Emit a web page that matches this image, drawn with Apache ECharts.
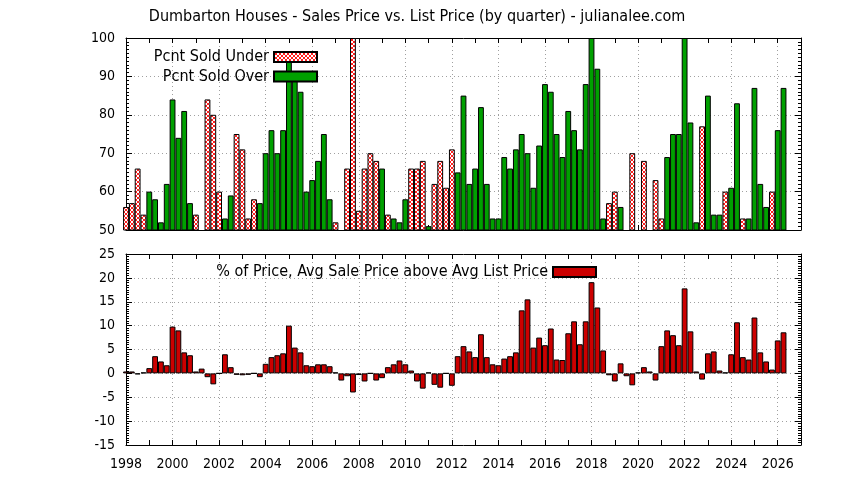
<!DOCTYPE html>
<html>
<head>
<meta charset="utf-8">
<script src="https://cdn.jsdelivr.net/npm/echarts@6/dist/echarts.min.js"></script>
<style>
html,body{margin:0;padding:0;background:#fff;}
#chart{width:844px;height:480px;}
</style>
</head>
<body>
<div id="chart"></div>
<script>
// ---- data (quarterly, starting 1998 Q1) ----
const startYear = 1998;
const seriesNames = ['Pcnt Sold Under', 'Pcnt Sold Over', '% of Price, Avg Sale Price above Avg List Price'];
const titleText = 'Dumbarton Houses - Sales Price vs. List Price (by quarter) - julianalee.com';
const yearLabels = [1998, 2000, 2002, 2004, 2006, 2008, 2010, 2012, 2014, 2016, 2018, 2020, 2022, 2024, 2026];
const topTicks = [50, 60, 70, 80, 90, 100];
const bottomTicks = [-15, -10, -5, 0, 5, 10, 15, 20, 25];

const under = [
  56, 57, 66, 54, null, null, null, null, null, null, null, null,
  54, null, 84, 80, 60, null, null, 75, 71, 53, 58, null,
  null, null, null, null, null, null, null, null, null, null, null, null,
  52, null, 66, 100, 55, 66, 70, 68, null, 54, null, null,
  null, 66, 66, 68, null, 62, 68, 61, 71, null, null, null,
  null, null, null, null, null, null, null, null, null, null, null, null,
  null, null, null, null, null, null, null, null, null, null, null, 57,
  60, null, null, 70, null, 68, null, 63, 53, null, null, null,
  null, null, null, 77, null, null, null, 60, null, null, 53, null,
  null, null, null, 60, null, null
];
const over = [
  null, null, null, null, 60, 58, 52, 62, 84, 74, 81, 57,
  null, null, null, null, null, 53, 59, null, null, null, null, 57,
  70, 76, 70, 76, 95, 90, 86, 60, 63, 68, 75, 58,
  null, null, null, null, null, null, null, null, 66, null, 53, 52,
  58, null, null, null, 51, null, null, null, null, 65, 85, 62,
  66, 82, 62, 53, 53, 69, 66, 71, 75, 70, 61, 72,
  88, 86, 75, 69, 81, 76, 71, 88, 100, 92, 53, null,
  null, 56, null, null, null, null, null, null, null, 69, 75, 75,
  100, 78, 52, null, 85, 54, 54, null, 61, 83, null, 53,
  87, 62, 56, null, 76, 87
];
const pct = [
  0.4, 0.4, -0.2, 0.2, 1.1, 3.6, 2.5, 1.7, 9.8, 9.0, 4.4, 3.8,
  0.4, 1.0, -0.8, -2.3, 0, 4.0, 1.3, -0.3, -0.4, -0.3, 0, -0.8,
  2.0, 3.4, 3.8, 4.2, 10.0, 5.4, 4.4, 1.7, 1.5, 1.9, 1.9, 1.5,
  0.2, -1.5, -0.6, -4.0, -0.35, -1.7, 0, -1.5, -1.0, 1.3, 1.9, 2.7,
  1.9, 0.6, -1.7, -3.2, 0.2, -2.4, -3.0, 0, -2.6, 3.6, 5.7, 4.6,
  3.4, 8.2, 3.4, 1.9, 1.7, 3.1, 3.6, 4.4, 13.2, 15.5, 5.4, 7.5,
  5.9, 9.4, 2.9, 2.8, 8.4, 10.9, 6.1, 10.9, 19.1, 13.8, 4.8, -0.4,
  -1.7, 2.1, -0.6, -2.5, 0.2, 1.3, 0.4, -1.5, 5.7, 9.0, 8.0, 5.9,
  17.8, 8.8, 0.4, -1.3, 4.2, 4.6, 0.6, 0.2, 4.0, 10.7, 3.4, 2.9,
  11.7, 4.4, 2.5, 0.8, 6.9, 8.6
];
const quarters = pct.map((_, i) => startYear + i / 4);

// ---- styling ----
const FONT = '"DejaVu Sans Condensed", "DejaVu Sans", sans-serif';
const GREEN = '#00a000';
const RED = '#cc0000';

function hatch() {
  const c = document.createElement('canvas');
  c.width = 4; c.height = 4;
  const g = c.getContext('2d');
  g.fillStyle = '#ffffff'; g.fillRect(0, 0, 4, 4);
  g.fillStyle = '#ff2020';
  for (let k = 0; k < 4; k++) { g.fillRect(k, k, 1, 1); g.fillRect(3 - k, k, 1, 1); }
  return c;
}
const hatchFill = { image: hatch(), repeat: 'repeat' };

const dotted = { show: true, lineStyle: { color: '#a0a0a0', type: [1, 3], width: 1 } };
const axisLine = { show: true, onZero: false, lineStyle: { color: '#000', width: 1 } };

function xAxes(gridIndex, labels) {
  return [
    {
      gridIndex, type: 'value', position: 'bottom', min: startYear, max: 2027, interval: 1,
      axisLine, axisTick: { show: true, inside: true, length: 5, lineStyle: { color: '#000' } },
      axisLabel: labels ? {
        show: true, color: '#000', fontFamily: FONT, fontSize: 14, margin: 12,
        formatter: v => yearLabels.includes(v) ? String(v) : ''
      } : { show: false },
      splitLine: { show: false }
    },
    {
      gridIndex, type: 'value', position: 'top', min: startYear, max: 2027, interval: 2,
      axisLine, axisTick: { show: true, inside: true, length: 5, lineStyle: { color: '#000' } },
      minorTick: { show: true, splitNumber: 2, length: 5, lineStyle: { color: '#000' } },
      axisLabel: { show: false },
      splitLine: dotted
    }
  ];
}
function yAxes(gridIndex, ticks) {
  const min = ticks[0], max = ticks[ticks.length - 1], interval = ticks[1] - ticks[0];
  const common = {
    gridIndex, type: 'value', min, max, interval,
    axisLine, axisTick: { show: true, inside: true, length: 6, lineStyle: { color: '#000' } },
    minorTick: { show: true, splitNumber: 10, length: 3, lineStyle: { color: '#000' } }
  };
  return [
    Object.assign({}, common, {
      position: 'left',
      axisLabel: { show: true, color: '#000', fontFamily: FONT, fontSize: 14, margin: 11 },
      splitLine: dotted
    }),
    Object.assign({}, common, { position: 'right', axisLabel: { show: false }, splitLine: { show: false } })
  ];
}

const pair = arr => quarters.map((q, i) => [q, arr[i] === null ? '-' : arr[i]]);

const legendText = { color: '#000', fontFamily: FONT, fontSize: 16 };
const legendBase = { icon: 'rect', align: 'right', itemWidth: 43, itemHeight: 10, itemGap: 10, textStyle: legendText, padding: 0, selectedMode: false };

const option = {
  animation: false,
  backgroundColor: '#fff',
  title: {
    text: titleText, left: 412, top: 4, textAlign: 'center',
    textStyle: { color: '#000', fontFamily: FONT, fontSize: 16, fontWeight: 'normal' }
  },
  grid: [
    { left: 126, right: 43, top: 38, height: 192, show: false },
    { left: 126, right: 43, top: 254, height: 191, show: false }
  ],
  legend: [
    Object.assign({ data: [seriesNames[0]], right: 526, top: 49 }, legendBase),
    Object.assign({ data: [seriesNames[1]], right: 526, top: 68.5 }, legendBase),
    Object.assign({ data: [seriesNames[2]], right: 247, top: 264 }, legendBase)
  ],
  xAxis: [].concat(xAxes(0, false), xAxes(1, true)),
  yAxis: [].concat(yAxes(0, topTicks), yAxes(1, bottomTicks)),
  series: [
    {
      name: seriesNames[0], type: 'bar', xAxisIndex: 0, yAxisIndex: 0,
      data: pair(under), barWidth: '100%', barGap: '-100%', clip: true,
      itemStyle: { color: hatchFill, borderColor: '#000', borderWidth: 1 }
    },
    {
      name: seriesNames[1], type: 'bar', xAxisIndex: 0, yAxisIndex: 0,
      data: pair(over), barWidth: '100%', barGap: '-100%', clip: true,
      itemStyle: { color: GREEN, borderColor: '#000', borderWidth: 1 }
    },
    {
      name: seriesNames[2], type: 'bar', xAxisIndex: 2, yAxisIndex: 2,
      data: pair(pct), barWidth: '100%', clip: true,
      itemStyle: { color: RED, borderColor: '#000', borderWidth: 1 }
    }
  ]
};

const chart = echarts.init(document.getElementById('chart'), null, { renderer: 'canvas' });
chart.setOption(option);
</script>
</body>
</html>
